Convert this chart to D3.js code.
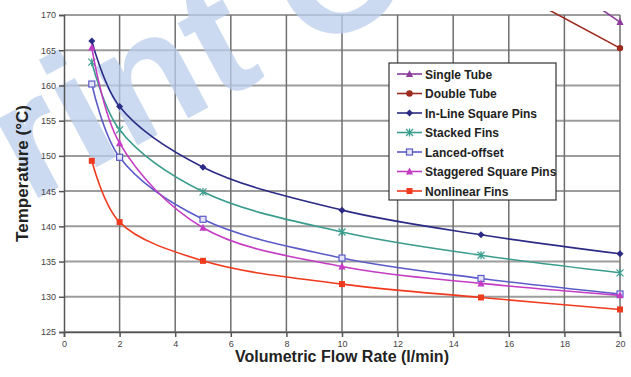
<!DOCTYPE html>
<html>
<head>
<meta charset="utf-8">
<script src="https://cdn.jsdelivr.net/npm/d3@7"></script>
<style>
  body { margin: 0; background: #fff; }
  .tick text { font-family: "Liberation Sans", Arial, sans-serif; font-size: 9px; fill: #444; }
  .lbl { font-family: "Liberation Sans Narrow", "Arial Narrow", sans-serif; }
</style>
</head>
<body>
<div id="chart"></div>
<script>
// Data
var flow = [1, 2, 5, 10, 15, 20];
var seriesNames = ["Single Tube", "Double Tube", "In-Line Square Pins", "Stacked Fins",
  "Lanced-offset", "Staggered Square Pins", "Nonlinear Fins"];
var singleTube = [null, null, null, null, 182.5, 169.0],
  doubleTube = [null, null, null, null, 175.9, 165.3],
  inLine = [166.3, 157.0, 148.4, 142.3, 138.8, 136.1],
  stacked = [163.3, 153.7, 144.9, 139.2, 135.9, 133.4],
  lanced = [160.2, 149.8, 141.0, 135.5, 132.6, 130.4],
  staggered = [165.4, 151.8, 139.8, 134.3, 131.9, 130.2],
  nonlinear = [149.3, 140.6, 135.1, 131.8, 129.9, 128.2];
var values = [singleTube, doubleTube, inLine, stacked, lanced, staggered, nonlinear];
var colors = ["#8e3c9e", "#9c2a1e", "#2b2b86", "#3a9c8c", "#5c5cc8", "#c43cc4", "#f03a1e"];
var shapes = ["triangle", "circle", "diamond", "star", "squareOpen", "triangle", "square"];
var xTicks = [0, 2, 4, 6, 8, 10, 12, 14, 16, 18, 20],
  yTicks = [125, 130, 135, 140, 145, 150, 155, 160, 165, 170];

// Layout
var W = 631, H = 377,
  mLeft = 64, mRight = 11, mTop = 15, mBottom = 45;

var svg = d3.select("#chart").append("svg")
  .attr("width", W).attr("height", H);

var x = d3.scaleLinear().domain([0, 20]).range([mLeft, W - mRight]);
var y = d3.scaleLinear().domain([125, 170]).range([H - mBottom, mTop]);

// grid
svg.append("g").selectAll("line")
  .data(yTicks).enter().append("line")
  .attr("x1", x(0)).attr("x2", x(20))
  .attr("y1", function(d) { return y(d); }).attr("y2", function(d) { return y(d); })
  .attr("stroke", "#9c9c9c").attr("stroke-width", 2);

svg.append("g").selectAll("line")
  .data(xTicks.slice(1)).enter().append("line")
  .attr("y1", y(125)).attr("y2", y(170))
  .attr("x1", function(d) { return x(d); }).attr("x2", function(d) { return x(d); })
  .attr("stroke", "#6e6e6e").attr("stroke-width", 1.5);

// watermark (partly off the page, as in the scan)
svg.append("text")
  .attr("class", "lbl")
  .attr("transform", "translate(-71,256)rotate(-28)")
  .attr("font-weight", "bold")
  .attr("font-size", 168)
  .attr("fill", "#b9cdeb")
  .attr("fill-opacity", 0.75)
  .text("Print Only");

// axes
var yAxis = d3.axisLeft(y).tickValues(yTicks).tickSize(5).tickPadding(3);
var xAxis = d3.axisBottom(x).tickValues(xTicks).tickSize(5).tickPadding(4);

var gy = svg.append("g").attr("transform", "translate(" + mLeft + ",0)").call(yAxis);
var gx = svg.append("g").attr("transform", "translate(0," + (H - mBottom) + ")").call(xAxis);
[gx, gy].forEach(function(g) {
  g.select(".domain").attr("stroke", "#555").attr("stroke-width", 1.5);
  g.selectAll(".tick line").attr("stroke", "#555").attr("stroke-width", 1.5);
});

// clip for lines
svg.append("clipPath").attr("id", "plotClip")
  .append("rect")
  .attr("x", x(0)).attr("y", y(170) - 4)
  .attr("width", x(20) - x(0) + 6).attr("height", y(125) - y(170) + 4);

var line = d3.line()
  .defined(function(d) { return d[1] != null; })
  .x(function(d) { return x(d[0]); })
  .y(function(d) { return y(d[1]); })
  .curve(d3.curveCatmullRom.alpha(0.5));

function marker(g, shape, color) {
  if (shape == "diamond") {
    g.append("path").attr("d", "M0,-3.5L3.5,0L0,3.5L-3.5,0Z").attr("fill", color);
  } else if (shape == "square") {
    g.append("rect").attr("x", -3).attr("y", -3).attr("width", 6).attr("height", 6).attr("fill", color);
  } else if (shape == "squareOpen") {
    g.append("rect").attr("x", -3).attr("y", -3).attr("width", 6).attr("height", 6)
      .attr("fill", "#e4e4f6").attr("stroke", color).attr("stroke-width", 1.2);
  } else if (shape == "triangle") {
    g.append("path").attr("d", "M0,-4L3.6,3L-3.6,3Z").attr("fill", color);
  } else if (shape == "circle") {
    g.append("circle").attr("r", 3.2).attr("fill", color);
  } else if (shape == "star") {
    g.append("path").attr("d", "M-3.5,-3.5L3.5,3.5M-3.5,3.5L3.5,-3.5M0,-4V4")
      .attr("stroke", color).attr("stroke-width", 1.2).attr("fill", "none");
  }
}

var plot = svg.append("g");
values.forEach(function(vals, i) {
  var pts = flow.map(function(f, j) { return [f, vals[j]]; });
  plot.append("path")
    .attr("d", line(pts))
    .attr("clip-path", "url(#plotClip)")
    .attr("fill", "none")
    .attr("stroke", colors[i])
    .attr("stroke-width", 1.6);
  pts.filter(function(p) { return p[1] != null && p[1] <= 170; }).forEach(function(p) {
    var g = plot.append("g").attr("transform", "translate(" + x(p[0]) + "," + y(p[1]) + ")");
    marker(g, shapes[i], colors[i]);
  });
});

// legend
var legend = svg.append("g").attr("transform", "translate(389,63)");
legend.append("rect")
  .attr("width", 167).attr("height", 137)
  .attr("fill", "#fff").attr("stroke", "#333").attr("stroke-width", 1.2);
seriesNames.forEach(function(name, i) {
  var ly = 11 + i * 19.5;
  legend.append("line")
    .attr("x1", 8).attr("x2", 33).attr("y1", ly).attr("y2", ly)
    .attr("stroke", colors[i]).attr("stroke-width", 1.6);
  var g = legend.append("g").attr("transform", "translate(20.5," + ly + ")");
  marker(g, shapes[i], colors[i]);
  legend.append("text")
    .attr("class", "lbl")
    .attr("x", 36).attr("y", ly + 4.5)
    .attr("font-size", 12)
    .attr("font-weight", "bold")
    .attr("fill", "#222")
    .text(name);
});

// axis titles
svg.append("text")
  .attr("class", "lbl")
  .attr("x", x(10)).attr("y", 362)
  .attr("text-anchor", "middle")
  .attr("font-size", 16).attr("font-weight", "bold").attr("fill", "#222")
  .text("Volumetric Flow Rate (l/min)");

svg.append("text")
  .attr("class", "lbl")
  .attr("transform", "translate(28," + y(147.5) + ")rotate(-90)")
  .attr("text-anchor", "middle")
  .attr("font-size", 17).attr("font-weight", "bold").attr("fill", "#222")
  .text("Temperature (°C)");
</script>
</body>
</html>
